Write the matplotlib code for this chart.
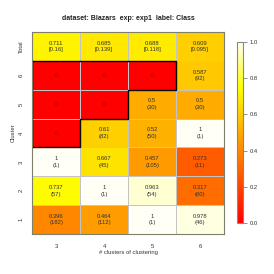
import numpy as np
import matplotlib
matplotlib.use("Agg")
import matplotlib.pyplot as plt
from matplotlib.colors import LinearSegmentedColormap

plt.rcParams['font.family'] = ['Liberation Sans', 'DejaVu Sans']

# data
n_clusters = [3, 4, 5, 6]
row_labels = ['1', '2', '3', '4', '5', '6', 'Total']
total_vals = [0.711, 0.685, 0.688, 0.609]
total_sd = ['0.16', '0.139', '0.118', '0.095']
# rows: cluster 1..6, columns: 3..6 clusters
vals = [
    [0.396, 0.464, 1, 0.978],
    [0.737, 1, 0.963, 0.317],
    [1, 0.667, 0.457, 0.273],
    [0, 0.61, 0.52, 1],
    [0, 0, 0.5, 0.5],
    [0, 0, 0, 0.587],
]
val_txt = [
    ['0.396', '0.464', '1', '0.978'],
    ['0.737', '1', '0.963', '0.317'],
    ['1', '0.667', '0.457', '0.273'],
    ['0', '0.61', '0.52', '1'],
    ['0', '0', '0.5', '0.5'],
    ['0', '0', '0', '0.587'],
]
counts = [
    [182, 112, 1, 46],
    [57, 1, 54, 60],
    [1, 45, 105, 11],
    [None, 82, 50, 1],
    [None, None, 30, 30],
    [None, None, None, 92],
]

# heat.colors style map
cmap = LinearSegmentedColormap.from_list(
    'heat', [(0, '#FF0000'), (0.75, '#FFFF00'), (1.0, '#FFFFF5')])

fig = plt.figure(figsize=(2.74, 2.74), dpi=100)
ax = fig.add_axes([0.117, 0.146, 0.701, 0.737])

Z = np.array(vals + [total_vals])
mesh = ax.pcolormesh(np.arange(5), np.arange(8), Z, cmap=cmap, vmin=0, vmax=1,
                     edgecolors='#C4C4C4', linewidth=0.7)

fs = 4.2
for i in range(6):
    for j in range(4):
        if counts[i][j] is None:
            ax.text(j + 0.5, i + 0.5, val_txt[i][j], ha='center', va='center', fontsize=fs, color='#333333')
        else:
            ax.text(j + 0.5, i + 0.5, val_txt[i][j] + '\n(' + str(counts[i][j]) + ')',
                    ha='center', va='center', fontsize=fs, color='#333333', linespacing=1.4)
for j in range(4):
    ax.text(j + 0.5, 6.5, '%g' % total_vals[j] + '\n[' + total_sd[j] + ']',
            ha='center', va='center', fontsize=fs, color='#333333', linespacing=1.4)

# border around the empty (zero) region
bx = [0, 3, 3, 2, 2, 1, 1, 0, 0]
by = [6, 6, 5, 5, 4, 4, 3, 3, 6]
ax.plot(bx, by, color='black', lw=1.0, solid_joinstyle='miter')

ax.set_xlim(0, 4)
ax.set_ylim(0, 7)
ax.set_xticks(np.arange(4) + 0.5)
ax.set_xticklabels([str(c) for c in n_clusters], fontsize=fs, color='#333333')
ax.set_yticks(np.arange(7) + 0.5)
ax.set_yticklabels(row_labels, fontsize=fs, rotation=90, va='center', color='#333333')
ax.tick_params(axis='x', length=0, pad=7)
ax.tick_params(axis='y', length=0, pad=6)
ax.set_xlabel('# clusters of clustering', fontsize=fs, color='#333333', labelpad=1)
ax.set_ylabel('Cluster', fontsize=fs, color='#333333', labelpad=2.5)
for s in ax.spines.values():
    s.set_color('#7F7F6A')
    s.set_linewidth(0.8)

fig.text(0.467, 0.934, 'dataset: Blazars  exp: exp1  label: Class', ha='center', va='center',
         fontsize=5.0, fontweight='bold', color='#222222')

cax = fig.add_axes([0.865, 0.186, 0.022, 0.661])
cb = fig.colorbar(mesh, cax=cax, ticks=[0, 0.2, 0.4, 0.6, 0.8, 1.0], format='%.1f')
cb.outline.set_edgecolor('#888888')
cb.outline.set_linewidth(0.8)
cax.tick_params(labelsize=fs, length=3, width=0.5, color='#666666', labelcolor='#333333', pad=1.5)

fig.savefig('out.png', dpi=100)
